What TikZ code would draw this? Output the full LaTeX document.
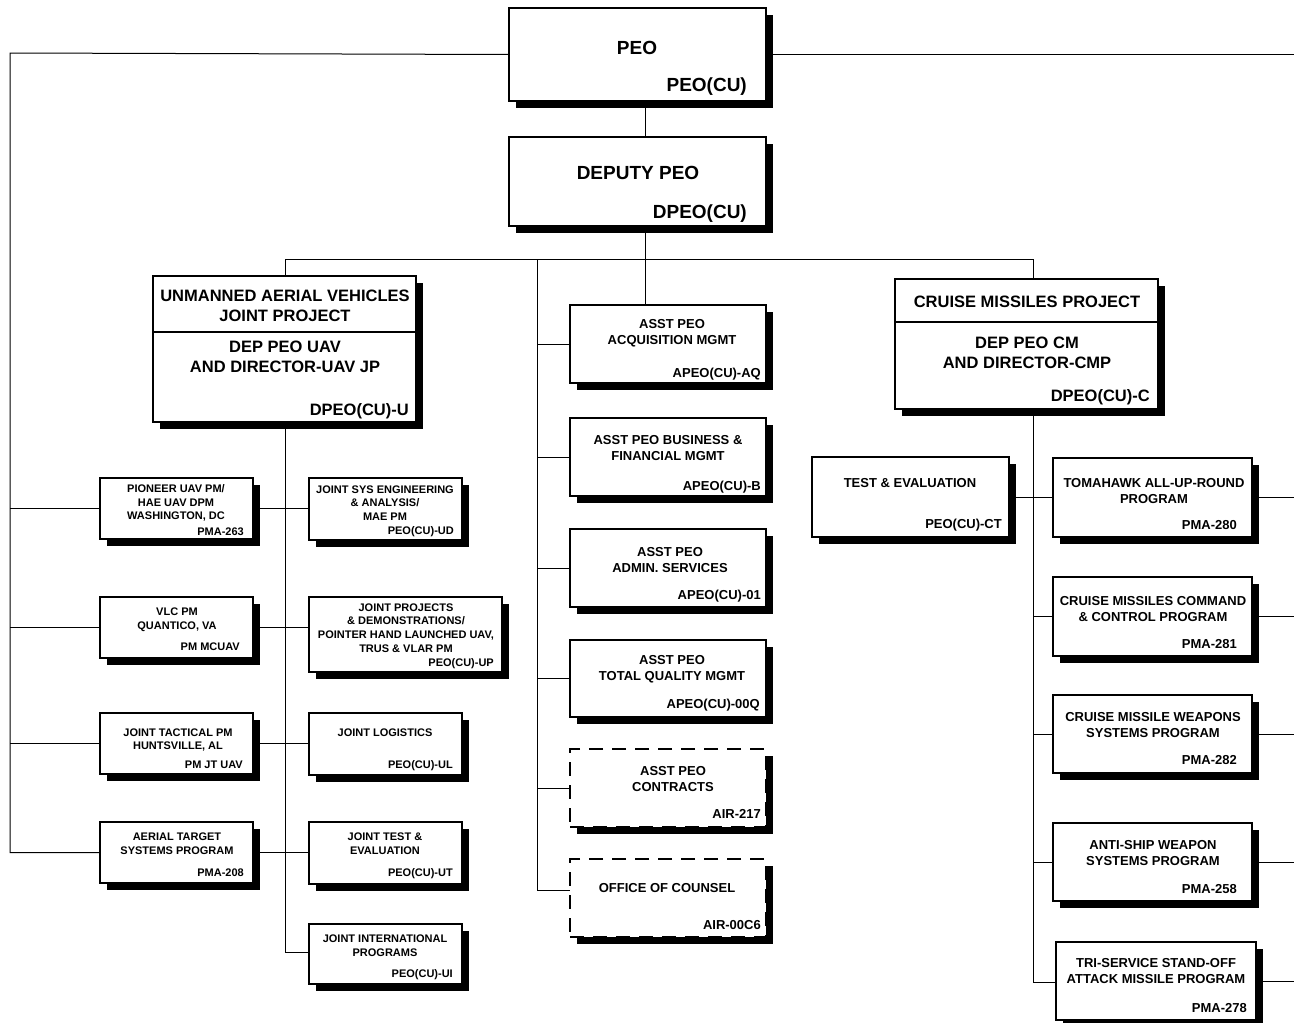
\documentclass[tikz,border=0pt]{standalone}
\usepackage{fontspec}
\setmainfont{Liberation Sans}
\usetikzlibrary{shadows}

\begin{document}
\begin{tikzpicture}[x=1pt, y=-1pt,
    orgbox/.style={draw, line width=2.4pt, fill=white, inner sep=0pt, outer sep=0pt, anchor=north west,
        drop shadow={shadow xshift=7pt, shadow yshift=-7pt, fill=black, opacity=1}},
    dashbox/.style={orgbox, dash pattern=on 14pt off 9pt},
    conn/.style={line width=1pt},
    divline/.style={line width=1.3pt},
    bigtxt/.style={font=\fontsize{19}{22}\selectfont\bfseries, inner sep=0pt, align=center},
    projtxt/.style={font=\fontsize{16.5}{20.5}\selectfont\bfseries, inner sep=0pt, align=center},
    midtxt/.style={font=\fontsize{13}{16}\selectfont\bfseries, inner sep=0pt, align=center},
    smalltxt/.style={font=\fontsize{11}{13.8}\selectfont\bfseries, inner sep=0pt, align=center}]
    \useasboundingbox (0,0) rectangle (1294,1023);

    % top of the chart
    \node[orgbox, minimum width=257pt, minimum height=93pt] (peo) at (509,8) {};
    \node[bigtxt] (peoT) at (637,48) {PEO};
    \node[bigtxt, anchor=east] (peoC) at (747,87) {PEO(CU)};
    \node[orgbox, minimum width=257pt, minimum height=89pt] (dpeo) at (509,137) {};
    \node[bigtxt] (dpeoT) at (638,173) {DEPUTY PEO};
    \node[bigtxt, anchor=east] (dpeoC) at (747,214) {DPEO(CU)};

    % projects
    \node[orgbox, minimum width=263pt, minimum height=146pt] (uav) at (153,276) {};
    \draw[divline] (uav.west |- 0,332) -- (uav.east |- 0,332);
    \node[projtxt] (uavT) at (285,306) {UNMANNED AERIAL VEHICLES\\JOINT PROJECT};
    \node[projtxt] (uavD) at (285,357) {DEP PEO UAV\\AND DIRECTOR-UAV JP};
    \node[projtxt, anchor=east] (uavC) at (409,411) {DPEO(CU)-U};
    \node[orgbox, minimum width=263pt, minimum height=130pt] (cm) at (895,279) {};
    \draw[divline] (cm.west |- 0,322) -- (cm.east |- 0,322);
    \node[projtxt] (cmT) at (1027,302) {CRUISE MISSILES PROJECT};
    \node[projtxt] (cmD) at (1027,353) {DEP PEO CM\\AND DIRECTOR-CMP};
    \node[projtxt, anchor=east] (cmC) at (1150,397) {DPEO(CU)-C};

    % staff column
    \node[orgbox, minimum width=196pt, minimum height=78pt] (aq) at (570,305) {};
    \node[midtxt] (aqT) at (672,333) {ASST PEO\\ACQUISITION MGMT};
    \node[midtxt, anchor=east] (aqC) at (761,374) {APEO(CU)-AQ};
    \node[orgbox, minimum width=196pt, minimum height=78pt] (bf) at (570,418) {};
    \node[midtxt] (bfT) at (668,448) {ASST PEO BUSINESS \&\\FINANCIAL MGMT};
    \node[midtxt, anchor=east] (bfC) at (761,487) {APEO(CU)-B};
    \node[orgbox, minimum width=196pt, minimum height=78pt] (adm) at (570,529) {};
    \node[midtxt] (admT) at (670,560) {ASST PEO\\ADMIN. SERVICES};
    \node[midtxt, anchor=east] (admC) at (761,596) {APEO(CU)-01};
    \node[orgbox, minimum width=196pt, minimum height=77pt] (tqm) at (570,640) {};
    \node[midtxt] (tqmT) at (672,669) {ASST PEO\\TOTAL QUALITY MGMT};
    \node[midtxt, anchor=east] (tqmC) at (760,705) {APEO(CU)-00Q};
    \node[dashbox, minimum width=196pt, minimum height=78pt] (con) at (570,749) {};
    \node[midtxt] (conT) at (673,779) {ASST PEO\\CONTRACTS};
    \node[midtxt, anchor=east] (conC) at (761,814) {AIR-217};
    \node[dashbox, minimum width=196pt, minimum height=78pt] (coun) at (570,859) {};
    \node[midtxt] (counT) at (667,888) {OFFICE OF COUNSEL};
    \node[midtxt, anchor=east] (counC) at (761,925) {AIR-00C6};

    % unmanned aerial vehicles offices
    \node[orgbox, minimum width=153pt, minimum height=61pt] (pio) at (100,478) {};
    \node[smalltxt] (pioT) at (176,503) {PIONEER UAV PM/\\HAE UAV DPM\\WASHINGTON, DC};
    \node[smalltxt, anchor=east] (pioC) at (244,532) {PMA-263};
    \node[orgbox, minimum width=153pt, minimum height=62pt] (jse) at (309,478) {};
    \node[smalltxt] (jseT) at (385,503) {JOINT SYS ENGINEERING\\\& ANALYSIS/\\MAE PM};
    \node[smalltxt, anchor=east] (jseC) at (454,532) {PEO(CU)-UD};
    \node[orgbox, minimum width=153pt, minimum height=61pt] (vlc) at (100,597) {};
    \node[smalltxt] (vlcT) at (177,620) {VLC PM\\QUANTICO, VA};
    \node[smalltxt, anchor=east] (vlcC) at (240,647) {PM MCUAV};
    \node[orgbox, minimum width=193pt, minimum height=75pt] (jpd) at (309,597) {};
    \node[smalltxt] (jpdT) at (406,628) {JOINT PROJECTS\\\& DEMONSTRATIONS/\\POINTER HAND LAUNCHED UAV,\\TRUS \& VLAR PM};
    \node[smalltxt, anchor=east] (jpdC) at (494,664) {PEO(CU)-UP};
    \node[orgbox, minimum width=153pt, minimum height=61pt] (jt) at (100,713) {};
    \node[smalltxt] (jtT) at (178,740) {JOINT TACTICAL PM\\HUNTSVILLE, AL};
    \node[smalltxt, anchor=east] (jtC) at (243,765) {PM JT UAV};
    \node[orgbox, minimum width=153pt, minimum height=62pt] (jl) at (309,713) {};
    \node[smalltxt] (jlT) at (385,733) {JOINT LOGISTICS};
    \node[smalltxt, anchor=east] (jlC) at (453,766) {PEO(CU)-UL};
    \node[orgbox, minimum width=153pt, minimum height=61pt] (ats) at (100,822) {};
    \node[smalltxt] (atsT) at (177,844) {AERIAL TARGET\\SYSTEMS PROGRAM};
    \node[smalltxt, anchor=east] (atsC) at (244,873) {PMA-208};
    \node[orgbox, minimum width=153pt, minimum height=62pt] (jte) at (309,822) {};
    \node[smalltxt] (jteT) at (385,844) {JOINT TEST \&\\EVALUATION};
    \node[smalltxt, anchor=east] (jteC) at (453,874) {PEO(CU)-UT};
    \node[orgbox, minimum width=153pt, minimum height=60pt] (ji) at (309,924) {};
    \node[smalltxt] (jiT) at (385,946) {JOINT INTERNATIONAL\\PROGRAMS};
    \node[smalltxt, anchor=east] (jiC) at (453,975) {PEO(CU)-UI};

    % cruise missiles offices
    \node[orgbox, minimum width=197pt, minimum height=80pt] (te) at (812,457) {};
    \node[midtxt] (teT) at (910,483) {TEST \& EVALUATION};
    \node[midtxt, anchor=east] (teC) at (1002,525) {PEO(CU)-CT};
    \node[orgbox, minimum width=199pt, minimum height=79pt] (tom) at (1053,458) {};
    \node[midtxt] (tomT) at (1154,491) {TOMAHAWK ALL-UP-ROUND\\PROGRAM};
    \node[midtxt, anchor=east] (tomC) at (1237,525) {PMA-280};
    \node[orgbox, minimum width=199pt, minimum height=79pt] (cmc) at (1053,577) {};
    \node[midtxt] (cmcT) at (1153,609) {CRUISE MISSILES COMMAND\\\& CONTROL PROGRAM};
    \node[midtxt, anchor=east] (cmcC) at (1237,644) {PMA-281};
    \node[orgbox, minimum width=199pt, minimum height=78pt] (cmw) at (1053,695) {};
    \node[midtxt] (cmwT) at (1153,725) {CRUISE MISSILE WEAPONS\\SYSTEMS PROGRAM};
    \node[midtxt, anchor=east] (cmwC) at (1237,760) {PMA-282};
    \node[orgbox, minimum width=199pt, minimum height=78pt] (asw) at (1053,823) {};
    \node[midtxt] (aswT) at (1153,853) {ANTI-SHIP WEAPON\\SYSTEMS PROGRAM};
    \node[midtxt, anchor=east] (aswC) at (1237,889) {PMA-258};
    \node[orgbox, minimum width=200pt, minimum height=78pt] (tss) at (1056,942) {};
    \node[midtxt] (tssT) at (1156,971) {TRI-SERVICE STAND-OFF\\ATTACK MISSILE PROGRAM};
    \node[midtxt, anchor=east] (tssC) at (1247,1008) {PMA-278};

    % connectors
    \coordinate (spine) at (645,259);
    \coordinate (busL) at (285,259);
    \coordinate (busR) at (1033,259);
    \coordinate (staff) at (537,259);
    \coordinate (rim) at (10,53);
    \coordinate (edge) at (1294,53);
    \draw[conn] (peo.south -| spine) -- (dpeo.north -| spine);
    \draw[conn] (dpeo.south -| spine) -- (aq.north -| spine);
    \draw[conn] (busL) -- (busR);
    \draw[conn] (busL) -- (uav.north -| busL);
    \draw[conn] (busR) -- (cm.north -| busR);
    \draw[conn] (peo.west) -- (rim) -- (rim |- ats.west) -- (ats.west);
    \draw[conn] (peo.east) -- (peo.east -| edge);
    \foreach \b in {pio,vlc,jt}
        \draw[conn] (rim |- \b.west) -- (\b.west);
    \draw[conn] (uav.south -| busL) -- (busL |- 0,952) -- (ji.west |- 0,952);
    \foreach \b in {pio,vlc,jt,ats}
        \draw[conn] (\b.east) -- (\b.east -| jse.west);
    \draw[conn] (staff) -- (staff |- 0,890) -- (coun.west |- 0,890);
    \foreach \b in {aq,bf,adm,tqm,con}
        \draw[conn] (staff |- \b.west) -- (\b.west);
    \draw[conn] (cm.south -| busR) -- (busR |- 0,982) -- (tss.west |- 0,982);
    \draw[conn] (te.east) -- (te.east -| tom.west);
    \foreach \b in {cmc,cmw,asw}
        \draw[conn] (busR |- \b.west) -- (\b.west);
    \foreach \b in {tom,cmc,cmw,asw,tss}
        \draw[conn] (\b.east) -- (\b.east -| edge);
\end{tikzpicture}
\end{document}
